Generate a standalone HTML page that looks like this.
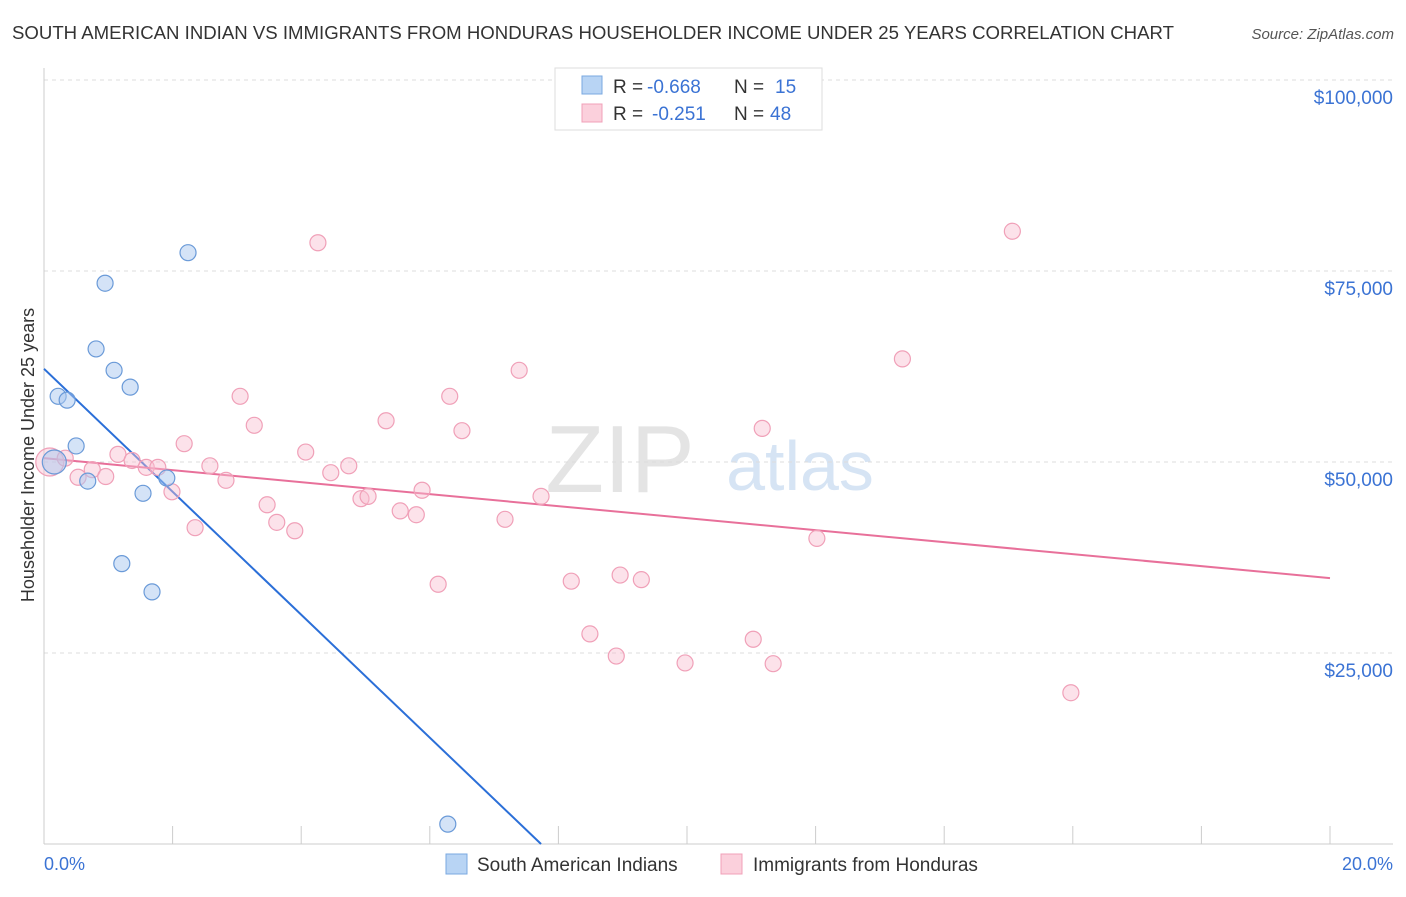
<!DOCTYPE html>
<html><head><meta charset="utf-8"><style>
body{margin:0;background:#fff;font-family:"Liberation Sans",sans-serif;}
svg text{font-family:"Liberation Sans",sans-serif;}
</style></head><body>
<svg id="chart" width="1406" height="892">
<text x="12" y="39" font-size="18" fill="#333" textLength="1162" lengthAdjust="spacingAndGlyphs">SOUTH AMERICAN INDIAN VS IMMIGRANTS FROM HONDURAS HOUSEHOLDER INCOME UNDER 25 YEARS CORRELATION CHART</text>
<text x="1394" y="39" font-size="15" fill="#555" font-style="italic" text-anchor="end">Source: ZipAtlas.com</text>
<text x="620" y="492" font-size="96" fill="#e4e4e4" font-family="Liberation Serif" text-anchor="middle">ZIP</text>
<text x="800" y="490" font-size="70" fill="#d6e4f4" text-anchor="middle">atlas</text>
<g id="grid"></g><g id="axes"></g><g id="lines"></g><g id="pts"></g>
<text transform="translate(34,455) rotate(-90)" font-size="18" fill="#333" text-anchor="middle">Householder Income Under 25 years</text>
<text x="44" y="870" font-size="18" fill="#3b73d4">0.0%</text>
<text x="1393" y="870" font-size="18" fill="#3b73d4" text-anchor="end">20.0%</text>
<g>
<rect x="555" y="68" width="267" height="62" fill="#fff" stroke="#ddd"/>
<rect x="582" y="76" width="20" height="18" fill="#b8d4f4" stroke="#7aa8e0"/>
<rect x="582" y="104" width="20" height="18" fill="#fbd0dc" stroke="#f0a0b8"/>
<text x="613" y="93" font-size="19" fill="#333">R =</text>
<text x="647" y="93" font-size="19" fill="#3b73d4">-0.668</text>
<text x="734" y="93" font-size="19" fill="#333">N =</text>
<text x="775" y="93" font-size="19" fill="#3b73d4">15</text>
<text x="613" y="120" font-size="19" fill="#333">R =</text>
<text x="652" y="120" font-size="19" fill="#3b73d4">-0.251</text>
<text x="734" y="120" font-size="19" fill="#333">N =</text>
<text x="770" y="120" font-size="19" fill="#3b73d4">48</text>
</g>
<g>
<rect x="446" y="854" width="21" height="20" fill="#b8d4f4" stroke="#7aa8e0"/>
<text x="477" y="871" font-size="19" fill="#333">South American Indians</text>
<rect x="721" y="854" width="21" height="20" fill="#fbd0dc" stroke="#f0a0b8"/>
<text x="753" y="871" font-size="19" fill="#333">Immigrants from Honduras</text>
</g>
</svg>
<script>
const yTicks=[25000,50000,75000,100000];
const yTickLabels=["$25,000","$50,000","$75,000","$100,000"];
const xTicks=[0,2,4,6,8,10,12,14,16,18,20];
const blueX=[0.16,0.5,0.22,0.36,0.95,0.81,1.09,1.34,0.68,1.54,1.91,1.21,1.68,2.24,6.28];
const blueY=[50000,52100,58600,58100,73400,64800,62000,59800,47500,45900,47900,36700,33000,77400,2600];
const pinkX=[0.09,0.33,0.53,0.75,0.96,1.15,1.37,1.59,1.77,1.99,2.18,2.35,2.58,2.83,3.05,3.27,3.47,3.62,3.9,4.07,4.26,4.46,4.74,4.93,5.04,5.32,5.54,5.79,5.88,6.13,6.31,6.5,7.17,7.39,7.73,8.2,8.49,8.9,8.96,9.29,9.97,11.03,11.17,11.34,12.02,13.35,15.06,15.97];
const pinkY=[50000,50500,48000,49000,48100,51000,50200,49300,49300,46100,52400,41400,49500,47600,58600,54800,44400,42100,41000,51300,78700,48600,49500,45200,45500,55400,43600,43100,46300,34000,58600,54100,42500,62000,45500,34400,27500,24600,35200,34600,23700,26800,54400,23600,40000,63500,80200,19800];
const blueTrend=[[0,62200],[7.73,0]];
const pinkTrend=[[0,50500],[20,34800]];
const X=v=>44+v/20*1286, Y=v=>844-v/25000*191;
const NS="http://www.w3.org/2000/svg";
function mk(t,a,p){const e=document.createElementNS(NS,t);for(const k in a)e.setAttribute(k,a[k]);document.getElementById(p).appendChild(e);return e;}
yTicks.forEach((v,i)=>{
 const l=mk('line',{x1:44,x2:1393,y1:Y(v),y2:Y(v),stroke:'#ddd','stroke-dasharray':'4,4'},'grid');
 
 
 const t=mk('text',{x:1393,y:Y(v)+24,'font-size':19,fill:'#3b73d4','text-anchor':'end'},'grid');
 t.textContent=yTickLabels[i];
 
 
});
const xa=mk('line',{x1:44,x2:1393,y1:844,y2:844,stroke:'#ccc'},'axes');


const ya=mk('line',{x1:44,x2:44,y1:68,y2:844,stroke:'#ccc'},'axes');


xTicks.forEach(v=>{
 const l=mk('line',{x1:X(v),x2:X(v),y1:826,y2:844,stroke:'#ccc'},'axes');
 
 
});
const bl=mk('line',{x1:X(blueTrend[0][0]),y1:Y(blueTrend[0][1]),x2:X(blueTrend[1][0]),y2:Y(blueTrend[1][1]),stroke:'#2b6fd8','stroke-width':2},'lines');


const pl=mk('line',{x1:X(pinkTrend[0][0]),y1:Y(pinkTrend[0][1]),x2:X(pinkTrend[1][0]),y2:Y(pinkTrend[1][1]),stroke:'#e8709a','stroke-width':2},'lines');


pinkX.forEach((v,i)=>{
 const c=mk('circle',{cx:X(v),cy:Y(pinkY[i]),r:i==0?14:8,fill:'rgba(248,190,208,0.45)',stroke:'#f0a0b8','stroke-width':1.2},'pts');
 
 
});
blueX.forEach((v,i)=>{
 const c=mk('circle',{cx:X(v),cy:Y(blueY[i]),r:i==0?12:8,fill:'rgba(170,200,240,0.5)',stroke:'#6a9ad8','stroke-width':1.2},'pts');
 
 
});
</script>
</body></html>
